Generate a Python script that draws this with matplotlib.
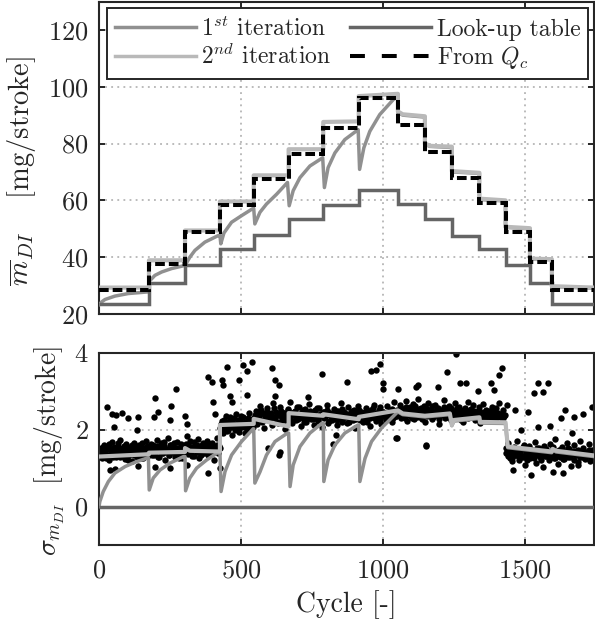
import numpy as np
import matplotlib
matplotlib.use("Agg")
import matplotlib.pyplot as plt
from matplotlib.lines import Line2D

plt.rcParams["font.family"] = "serif"
plt.rcParams["font.serif"] = ["cmr10"]
plt.rcParams["mathtext.fontset"] = "cm"
plt.rcParams["axes.unicode_minus"] = False
plt.rcParams["axes.formatter.use_mathtext"] = True

# ---------------- data ----------------
step_cycles = [0, 176, 303, 426, 545, 668, 790, 915, 1053, 1148, 1243, 1340, 1432, 1518, 1595, 1742]
lut_mass = [23.5, 30.9, 37.1, 42.9, 47.8, 53.5, 58.5, 63.6, 58.6, 53.5, 47.6, 42.9, 37.1, 30.9, 23.5]
qc_mass = [28.4, 37.7, 48.8, 58.2, 67.4, 76.2, 85.6, 96.1, 86.6, 77.0, 68.0, 58.9, 48.9, 38.3, 28.4]
lut_sigma = [0.0] * 15

it2_mass_cycles = [0, 176, 176, 303, 303, 426, 426, 545, 545, 668, 668, 790, 790, 915, 915, 1053,
                   1053, 1070, 1148, 1148, 1165, 1243, 1243, 1340, 1340, 1432, 1432, 1518, 1518,
                   1595, 1595, 1742]
it2_mass = [29.3, 29.3, 38.9, 38.9, 49.4, 49.4, 59.6, 59.6, 68.8, 68.8, 78.0, 78.0, 87.6, 87.8,
            96.7, 97.5, 91.3, 90.3, 89.6, 80.1, 79.2, 78.9, 70.3, 69.7, 60.6, 60.0, 50.7, 50.2,
            39.5, 39.3, 29.8, 29.3]

it1_mass_cycles = [0, 10, 21, 56, 103, 176, 177, 197, 221, 256, 303, 320, 338, 373, 420, 426,
                   429, 440, 467, 502, 540, 545, 549, 567, 590, 626, 664, 670, 684, 708, 743,
                   788, 794, 807, 831, 866, 913, 918, 933, 954, 989, 1036, 1053,
                   1053, 1070, 1148, 1148, 1165, 1243, 1243, 1340, 1340, 1432, 1432, 1518, 1518,
                   1595, 1595, 1742]
it1_mass = [23.3, 24.3, 25.1, 26.3, 27.2, 27.8, 31.5, 33.6, 34.8, 36.0, 37.1, 40.0, 42.4, 45.3,
            47.6, 47.8, 44.7, 48.5, 52.3, 54.6, 57.0, 57.2, 51.7, 55.8, 58.7, 62.2, 66.3, 58.1,
            63.4, 68.0, 72.1, 75.0, 64.5, 71.5, 76.7, 81.4, 84.9, 70.9, 78.5, 84.3, 90.2, 95.4,
            96.8, 91.0, 90.0, 89.3, 79.8, 79.0, 78.6, 70.0, 69.5, 60.3, 59.8, 50.5, 50.0, 39.3,
            39.1, 29.6, 29.1]

it1_sigma_cycles = [0, 3, 15, 33, 56, 92, 133, 174, 177, 191, 215, 250, 298, 303, 305, 320, 344,
                    379, 424, 426, 430, 444, 467, 502, 543, 545, 549, 567, 590, 620, 664, 668,
                    673, 684, 708, 743, 786, 790, 792, 807, 831, 866, 912, 915, 919, 937, 960,
                    995, 1048, 1053, 1070, 1148, 1236, 1243, 1250, 1340, 1342, 1432, 1440, 1595,
                    1598, 1610, 1742]
it1_sigma = [0.0, 0.13, 0.39, 0.65, 0.87, 1.04, 1.17, 1.27, 0.43, 0.74, 0.95, 1.13, 1.30, 1.30,
             0.41, 0.74, 1.00, 1.21, 1.43, 1.43, 0.39, 0.91, 1.34, 1.69, 2.02, 2.02, 0.61, 0.90,
             1.34, 1.69, 1.91, 1.91, 0.52, 1.08, 1.56, 1.91, 2.17, 2.17, 0.65, 1.21, 1.60, 1.91,
             2.12, 2.12, 0.65, 1.25, 1.69, 2.04, 2.43, 2.46, 2.39, 2.33, 2.39, 2.10, 2.22, 2.29,
             2.17, 2.16, 1.53, 1.40, 1.47, 1.42, 1.30]

it2_sigma_cycles = [0, 176, 176, 303, 303, 320, 426, 426, 545, 545, 668, 668, 790, 790, 915, 915,
                    1053, 1070, 1148, 1236, 1243, 1250, 1340, 1342, 1432, 1440, 1595, 1598,
                    1610, 1742]
it2_sigma = [1.30, 1.36, 1.40, 1.42, 1.52, 1.45, 1.43, 2.12, 2.15, 2.28, 2.08, 2.43, 2.36, 2.40,
             2.27, 2.33, 2.50, 2.42, 2.36, 2.42, 2.12, 2.25, 2.32, 2.20, 2.19, 1.56, 1.43, 1.50,
             1.45, 1.33]

# measured sigma cloud (dense band), listed region by region, two passes
band_edges = [0, 176, 426, 545, 1053, 1430, 1742]
band_A = [1.38, 1.52, 1.27, 1.61, 1.44, 1.33, 1.57, 1.21, 1.49, 1.68, 1.36, 1.46, 1.29, 1.58,
          1.41, 1.74, 1.32, 1.51, 1.24, 1.63, 1.43, 1.35, 1.55, 1.18, 1.47, 1.66, 1.39, 1.30,
          1.59, 1.45, 1.26, 1.53, 1.37, 1.70, 1.42, 1.48]
band_B = [1.47, 1.62, 1.33, 1.55, 1.41, 1.72, 1.28, 1.50, 1.66, 1.38, 1.57, 1.22, 1.46, 1.79,
          1.35, 1.60, 1.44, 1.53, 1.30, 1.69, 1.49, 1.39, 1.63, 1.25, 1.54, 1.45, 1.83, 1.36,
          1.58, 1.48, 1.31, 1.67, 1.52, 1.42, 1.75, 1.27, 1.56, 1.61, 1.40, 1.50, 1.71, 1.34,
          1.59, 1.46, 1.65, 1.20, 1.53, 1.77, 1.43, 1.57]
band_C = [2.05, 2.22, 1.92, 2.14, 2.35, 1.98, 2.10, 2.28, 1.85, 2.18, 2.03, 2.40, 2.12, 1.95,
          2.25, 2.08, 2.32, 1.90, 2.16, 2.01, 2.44, 2.11, 2.27, 2.06]
band_D = [2.31, 2.48, 2.15, 2.39, 2.62, 2.22, 2.44, 2.05, 2.35, 2.55, 2.27, 2.41, 2.12, 2.68,
          2.33, 2.46, 2.19, 2.37, 2.58, 2.25, 2.43, 2.01, 2.34, 2.52, 2.29, 2.71, 2.17, 2.40,
          2.49, 2.24, 2.36, 2.60, 2.09, 2.45, 2.30, 2.53, 2.20, 2.38, 2.66, 2.28, 2.42, 2.13,
          2.51, 2.34, 2.23, 2.57, 2.39, 2.07, 2.47, 2.32, 2.64, 2.18, 2.43, 2.35, 2.26, 2.54,
          2.40, 2.11, 2.49, 2.31, 2.70, 2.21, 2.44, 2.37, 2.16, 2.59, 2.33, 2.46, 2.24, 2.52,
          2.04, 2.39, 2.62, 2.29, 2.45, 2.19, 2.36, 2.56, 2.27, 2.42, 2.10, 2.50, 2.34, 2.65,
          2.23, 2.41, 2.30, 2.58, 2.15, 2.47, 2.38, 2.26, 2.61, 2.33, 2.48, 2.20, 2.44, 2.73,
          2.35, 2.52]
band_E = [2.48, 2.63, 2.30, 2.52, 2.41, 2.74, 2.22, 2.45, 2.58, 2.36, 2.67, 2.27, 2.50, 2.43,
          2.80, 2.33, 2.55, 2.40, 2.61, 2.19, 2.47, 2.70, 2.35, 2.53, 2.28, 2.46, 2.65, 2.38,
          2.57, 2.14, 2.49, 2.42, 2.76, 2.31, 2.54, 2.44, 2.62, 2.25, 2.51, 2.37, 2.68, 2.29,
          2.45, 2.59, 2.34, 2.48, 2.21, 2.56, 2.40, 2.72, 2.32, 2.50, 2.43, 2.64, 2.26, 2.47,
          2.38, 2.58, 2.17, 2.44, 2.66, 2.35, 2.52, 2.30, 2.49, 2.41, 2.60, 2.23, 2.46, 2.55,
          2.33, 2.69, 2.39, 2.27, 2.51, 2.36]
band_F = [1.52, 1.38, 1.64, 1.27, 1.45, 1.18, 1.56, 1.33, 1.71, 1.41, 1.22, 1.49, 1.30, 1.61,
          1.08, 1.43, 1.35, 1.58, 1.25, 1.47, 1.39, 1.68, 1.14, 1.36, 1.53, 1.29, 1.44, 1.02,
          1.57, 1.32, 1.40, 1.20, 1.62, 1.34, 1.48, 1.26, 1.75, 1.37, 1.11, 1.46, 1.31, 1.55,
          1.23, 1.42, 1.66, 1.28, 1.50, 1.05, 1.38, 1.59, 1.33, 1.45, 1.16, 1.41, 1.70, 1.30,
          1.52, 1.24, 1.43, 1.35, 1.63, 1.19, 1.47, 1.36]
band_A2 = [1.45, 1.33, 1.56, 1.40, 1.25, 1.50, 1.62, 1.35, 1.43, 1.30, 1.54, 1.47, 1.38, 1.66,
           1.28, 1.49, 1.42, 1.58, 1.36, 1.46, 1.22, 1.52, 1.41, 1.60, 1.34, 1.44, 1.55, 1.31,
           1.48, 1.39, 1.64, 1.27, 1.50, 1.43, 1.57, 1.35]
band_B2 = [1.52, 1.40, 1.61, 1.35, 1.48, 1.57, 1.29, 1.45, 1.54, 1.38, 1.68, 1.44, 1.50, 1.33,
           1.59, 1.47, 1.41, 1.64, 1.36, 1.53, 1.26, 1.49, 1.58, 1.43, 1.37, 1.62, 1.51, 1.45,
           1.70, 1.39, 1.55, 1.32, 1.48, 1.60, 1.42, 1.53, 1.35, 1.66, 1.46, 1.57, 1.40, 1.51,
           1.63, 1.37, 1.49, 1.56, 1.44, 1.61, 1.38, 1.52]
band_C2 = [2.15, 2.02, 2.26, 2.10, 1.97, 2.20, 2.33, 2.07, 2.17, 2.29, 1.99, 2.13, 2.24, 2.04,
           2.36, 2.14, 2.09, 2.21, 2.00, 2.30, 2.12, 2.19, 2.06, 2.23]
band_D2 = [2.38, 2.27, 2.45, 2.33, 2.52, 2.21, 2.40, 2.30, 2.47, 2.36, 2.25, 2.43, 2.34, 2.56,
           2.29, 2.41, 2.18, 2.37, 2.49, 2.31, 2.44, 2.26, 2.39, 2.53, 2.32, 2.42, 2.23, 2.46,
           2.35, 2.58, 2.28, 2.40, 2.34, 2.50, 2.20, 2.43, 2.37, 2.30, 2.48, 2.39, 2.27, 2.45,
           2.33, 2.55, 2.24, 2.41, 2.36, 2.47, 2.29, 2.38, 2.51, 2.22, 2.44, 2.35, 2.40, 2.31,
           2.49, 2.26, 2.42, 2.37, 2.54, 2.30, 2.46, 2.33, 2.41, 2.19, 2.39, 2.48, 2.32, 2.44,
           2.28, 2.36, 2.52, 2.25, 2.43, 2.34, 2.47, 2.38, 2.21, 2.45, 2.31, 2.40, 2.57, 2.29,
           2.42, 2.35, 2.50, 2.24, 2.39, 2.46, 2.32, 2.44, 2.27, 2.41, 2.37, 2.53, 2.30, 2.43,
           2.36, 2.48]
band_E2 = [2.42, 2.55, 2.36, 2.49, 2.31, 2.58, 2.44, 2.38, 2.52, 2.29, 2.47, 2.61, 2.40, 2.34,
           2.53, 2.45, 2.27, 2.50, 2.41, 2.56, 2.35, 2.48, 2.43, 2.62, 2.32, 2.46, 2.39, 2.54,
           2.28, 2.51, 2.44, 2.37, 2.59, 2.42, 2.33, 2.49, 2.45, 2.55, 2.30, 2.47, 2.40, 2.57,
           2.36, 2.50, 2.26, 2.44, 2.52, 2.38, 2.46, 2.31, 2.41, 2.53, 2.34, 2.48, 2.29, 2.43,
           2.36, 2.50, 2.25, 2.39, 2.45, 2.32, 2.47, 2.38, 2.42, 2.28, 2.51, 2.35, 2.40, 2.30,
           2.44, 2.37, 2.33, 2.41, 2.29, 2.38]
band_F2 = [1.40, 1.31, 1.47, 1.36, 1.25, 1.43, 1.52, 1.33, 1.38, 1.28, 1.45, 1.35, 1.56, 1.30,
           1.41, 1.22, 1.37, 1.49, 1.32, 1.44, 1.27, 1.39, 1.53, 1.34, 1.42, 1.20, 1.46, 1.36,
           1.31, 1.50, 1.38, 1.29, 1.43, 1.33, 1.55, 1.26, 1.40, 1.35, 1.47, 1.30, 1.37, 1.24,
           1.44, 1.32, 1.41, 1.51, 1.28, 1.36, 1.45, 1.21, 1.39, 1.34, 1.48, 1.29, 1.42, 1.31,
           1.37, 1.26, 1.40, 1.33, 1.46, 1.28, 1.38, 1.32]
band_values = [band_A, band_B, band_C, band_D, band_E, band_F]
band_values2 = [band_A2, band_B2, band_C2, band_D2, band_E2, band_F2]

# scattered points outside the dense band
out_cycles = [27, 46, 52, 59, 80, 101, 133, 139, 194, 197, 209, 250, 254, 273, 303, 310, 385, 398,
              402, 410, 432, 437, 451, 460, 468, 494, 506, 520, 538, 520, 608, 620, 620, 635, 735,
              784, 875, 957, 977, 989, 1000, 1000, 1054, 1118, 1124, 1195, 1226, 1259, 1273, 1292,
              1336, 1382, 1393, 1410, 1418, 1437, 1467, 1488, 1512, 1533, 1546, 1547, 1565, 1582,
              1590, 1629, 1640, 1667, 1674, 1705, 1738,
              39, 56, 139, 197, 250, 310, 385, 426, 597, 635, 637, 825, 836, 1048, 1050, 1153,
              1151, 1523, 1598, 1634, 1686, 1460]
out_sigma = [2.60, 2.40, 2.08, 2.38, 2.42, 2.31, 2.00, 2.34, 2.34, 2.81, 2.47, 2.25, 2.61, 3.05,
             2.36, 2.14, 3.38, 3.25, 2.73, 2.40, 3.30, 3.17, 3.64, 2.87, 2.73, 3.28, 3.68, 3.53,
             3.75, 2.90, 3.59, 3.30, 2.88, 3.16, 2.85, 3.44, 3.23, 3.53, 3.55, 3.70, 3.22, 3.05,
             3.05, 3.12, 3.15, 3.10, 3.51, 3.97, 3.22, 3.20, 3.00, 3.20, 3.04, 3.43, 3.60, 2.64,
             2.51, 1.99, 2.47, 2.95, 2.06, 3.20, 2.97, 3.22, 2.10, 2.31, 2.50, 1.92, 2.33, 2.40,
             2.60,
             0.95, 0.98, 1.05, 1.04, 0.99, 1.08, 0.87, 0.99, 1.52, 1.35, 1.43, 1.63, 1.86, 1.78,
             1.77, 1.60, 1.58, 0.82, 0.90, 0.86, 1.07, 0.95]

# ---------------- styles ----------------
c_it1 = "#909090"
c_it2 = "#b9b9b9"
c_lut = "#656565"
c_frame = "#262626"
W, H = 595, 626

fig = plt.figure(figsize=(W / 100, H / 100), dpi=100)
ax1 = fig.add_axes([99 / W, 1 - 314 / H, (593.5 - 99) / W, 312.5 / H])
ax2 = fig.add_axes([99 / W, 1 - 545 / H, (593.5 - 99) / W, 192.3 / H])

for ax in (ax1, ax2):
    ax.set_xlim(0, 1742)
    ax.set_xticks([0, 500, 1000, 1500])
    for s in ax.spines.values():
        s.set_color(c_frame)
        s.set_linewidth(1.5)
    ax.tick_params(direction="in", top=True, right=True, length=4.5, width=1.4,
                   color=c_frame, labelsize=19, labelcolor=c_frame)
    ax.tick_params(axis="y", pad=7.5)
    ax.tick_params(axis="x", pad=10)
    ax.grid(True, color="#a8a8a8", linewidth=1.1, linestyle=(0, (1.2, 2.8)))
    ax.set_axisbelow(True)

# ---- top panel ----
ax1.set_ylim(20, 130)
ax1.set_yticks([20, 40, 60, 80, 100, 120])
ax1.tick_params(axis="x", labelbottom=False)
ax1.plot(it1_mass_cycles, it1_mass, color=c_it1, lw=2.5, zorder=3)
ax1.stairs(lut_mass, step_cycles, baseline=None, color=c_lut, lw=2.5, zorder=3)
ax1.plot(it2_mass_cycles, it2_mass, color=c_it2, lw=3.0, zorder=4)
ax1.stairs(qc_mass, step_cycles, baseline=None, color="black", lw=2.9,
           linestyle=(0, (2.4, 1.0)), zorder=5)
ax1.set_ylabel(r"$\overline{m}_{DI}\quad$ [mg/stroke]", fontsize=20.5, color=c_frame)
ax1.yaxis.set_label_coords(-0.123, 0.456)

handles = [Line2D([], [], color=c_it1, lw=2.5),
           Line2D([], [], color=c_it2, lw=2.5),
           Line2D([], [], color=c_lut, lw=2.5),
           Line2D([], [], color="black", lw=2.9, linestyle=(0, (3.7, 4.2)))]
labels = [r"1$^{st}$ iteration", r"2$^{nd}$ iteration", "Look-up table", r"From $Q_c$"]
leg = ax1.legend(handles, labels, loc="upper left", bbox_to_anchor=(0.0162, 0.979),
                 ncol=2, fontsize=17, handlelength=3.4, handletextpad=0.25,
                 columnspacing=0.8, borderpad=0.35, labelspacing=0.15,
                 borderaxespad=0, fancybox=False, framealpha=1, edgecolor=c_frame)
leg.get_frame().set_linewidth(1.4)
for t in leg.get_texts():
    t.set_color(c_frame)

# ---- bottom panel ----
ax2.set_ylim(-1, 4)
ax2.set_yticks([0, 2, 4])
for (a, b), vals, vals2 in zip(zip(band_edges[:-1], band_edges[1:]), band_values, band_values2):
    ax2.plot(np.linspace(a + 2, b - 2, len(vals)), vals, "o", ms=4.6, color="black",
             mew=0, zorder=2)
    ax2.plot(np.linspace(a + 4.5, b - 0.5, len(vals2)), vals2, "o", ms=4.6, color="black",
             mew=0, zorder=2)
ax2.plot(out_cycles, out_sigma, "o", ms=4.6, color="black", mew=0, zorder=2)
ax2.plot(it1_sigma_cycles, it1_sigma, color=c_it1, lw=2.5, zorder=3)
ax2.stairs(lut_sigma, step_cycles, baseline=None, color=c_lut, lw=2.5, zorder=3)
ax2.plot(it2_sigma_cycles, it2_sigma, color=c_it2, lw=3.0, zorder=4)
ax2.set_ylabel(r"$\sigma_{m_{DI}}$  [mg/stroke]", fontsize=20, color=c_frame)
ax2.yaxis.set_label_coords(-0.065, 0.5)
ax2.set_xlabel("Cycle [-]", fontsize=20, color=c_frame)
ax2.xaxis.set_label_coords(0.5, -0.235)

# place the y labels so their extents sit where they are in the reference
fig.canvas.draw()
renderer = fig.canvas.get_renderer()
targets = [(ax1, 38.0, 171.5, -0.123, 0.456), (ax2, 67.0, 450.5, -0.065, 0.5)]
for ax, right_px, center_px, x0, y0 in targets:
    bb = ax.yaxis.label.get_window_extent(renderer)
    axbb = ax.get_window_extent(renderer)
    dx = right_px - bb.x1
    dy = (H - center_px) - 0.5 * (bb.y0 + bb.y1)
    ax.yaxis.set_label_coords(x0 + dx / axbb.width, y0 + dy / axbb.height)

fig.savefig("out.png", dpi=100)
